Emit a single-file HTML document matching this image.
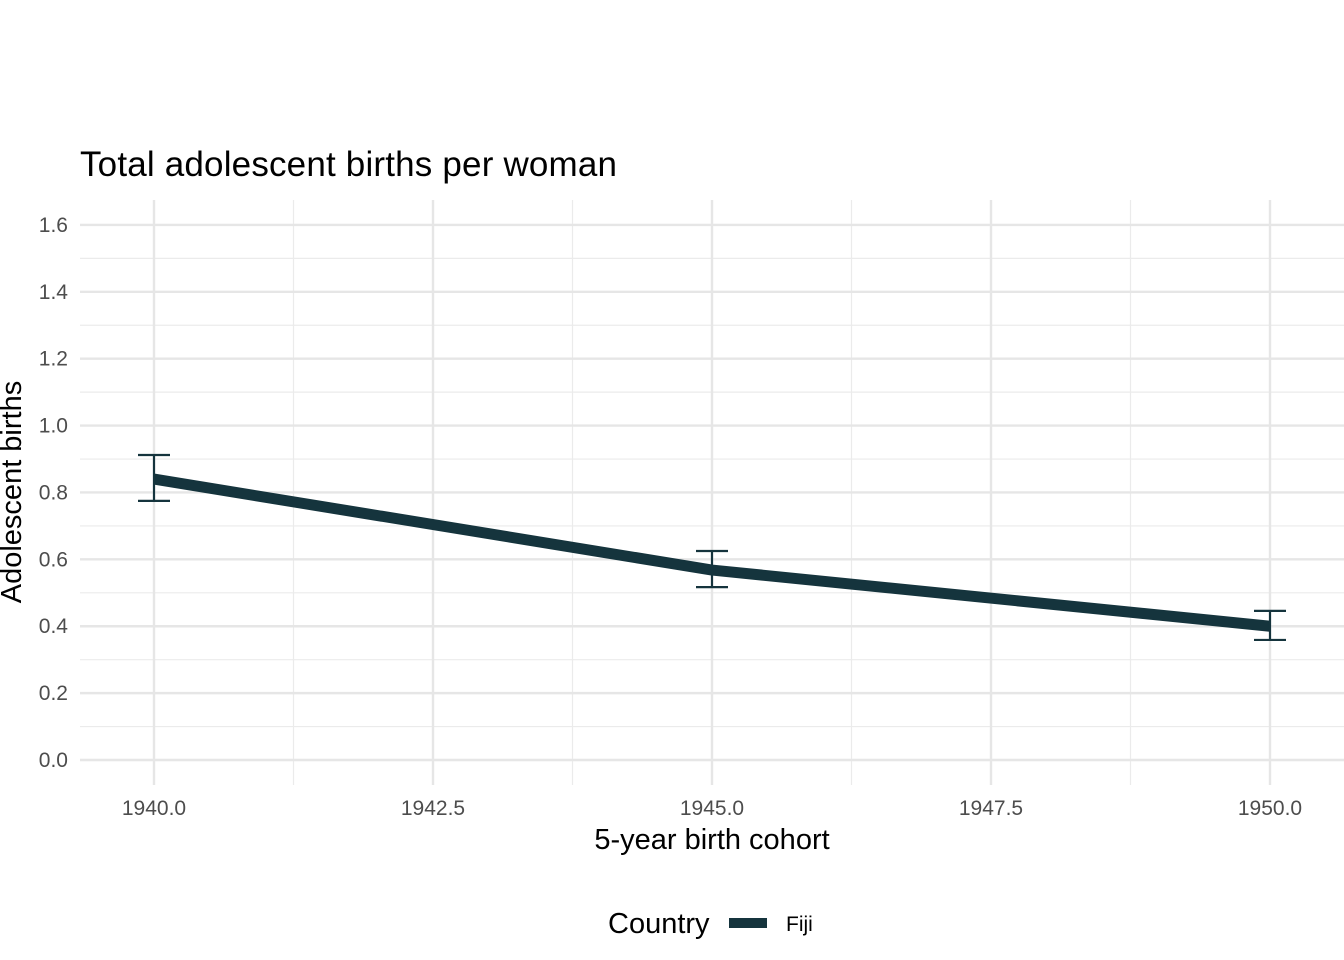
<!DOCTYPE html>
<html><head><meta charset="utf-8"><style>
html,body{margin:0;padding:0;background:#fff;}
svg{display:block;font-family:"Liberation Sans",Arial,sans-serif;}
</style></head><body>
<svg id="chart" width="1344" height="960">
<text x="80" y="176" font-size="35" fill="#000" textLength="537">Total adolescent births per woman</text>
<g id="grid"></g>
<g id="ticks"></g>
<g id="marks"></g>
<text x="712" y="849" font-size="29" text-anchor="middle" fill="#000">5-year birth cohort</text>
<text transform="translate(21,492) rotate(-90)" font-size="29" text-anchor="middle" fill="#000">Adolescent births</text>
<g>
<text x="608" y="933" font-size="29" fill="#000">Country</text>
<rect x="729" y="918" width="38" height="10" fill="#15343d"></rect>
<text x="786" y="931" font-size="21" fill="#000">Fiji</text>
</g>
</svg>
<script>
const years = [1940, 1945, 1950];
const values = [0.84, 0.568, 0.40];
const lower = [0.775, 0.517, 0.359];
const upper = [0.912, 0.625, 0.446];
const xTicks = [1940, 1942.5, 1945, 1947.5, 1950];
const xTickLabels = ["1940.0", "1942.5", "1945.0", "1947.5", "1950.0"];
const yTicks = [0, 0.2, 0.4, 0.6, 0.8, 1.0, 1.2, 1.4, 1.6];
const yTickLabels = ["0.0", "0.2", "0.4", "0.6", "0.8", "1.0", "1.2", "1.4", "1.6"];

const NS = "http://www.w3.org/2000/svg";
const X = v => 154 + (v - 1940) * 111.6;
const Y = v => 760 - v * 334.4;
const L = 80, R = 1344, T = 200, B = 785;
function mk(tag, attrs, parent) {
  const e = document.createElementNS(NS, tag);
  for (const k in attrs) e.setAttribute(k, attrs[k]);
  parent.appendChild(e);
  return e;
}
const grid = document.getElementById("grid");
const ticks = document.getElementById("ticks");
const marks = document.getElementById("marks");
for (let i = 0; i < xTicks.length - 1; i++) {
  const m = (xTicks[i] + xTicks[i + 1]) / 2;
  const el = mk("line", {x1: X(m), x2: X(m), y1: T, y2: B, stroke: "#ebebeb", "stroke-width": 1.2}, grid);
  
  
}
for (let i = 0; i < yTicks.length - 1; i++) {
  const m = (yTicks[i] + yTicks[i + 1]) / 2;
  const el = mk("line", {x1: L, x2: R, y1: Y(m), y2: Y(m), stroke: "#ebebeb", "stroke-width": 1.2}, grid);
  
  
}
xTicks.forEach((t, i) => {
  const el = mk("line", {x1: X(t), x2: X(t), y1: T, y2: B, stroke: "#e6e6e6", "stroke-width": 2.4}, grid);
  
  
  const tx = mk("text", {x: X(t), y: 815, "font-size": 21, fill: "#4d4d4d", "text-anchor": "middle"}, ticks);
  tx.textContent = xTickLabels[i];
  
  
});
yTicks.forEach((t, i) => {
  const el = mk("line", {x1: L, x2: R, y1: Y(t), y2: Y(t), stroke: "#e6e6e6", "stroke-width": 2.4}, grid);
  
  
  const tx = mk("text", {x: 68, y: Y(t) + 7, "font-size": 21, fill: "#4d4d4d", "text-anchor": "end"}, ticks);
  tx.textContent = yTickLabels[i];
  
  
});
const pts = years.map((y, i) => X(y) + "," + Y(values[i])).join(" ");
const pl = mk("polyline", {points: pts, fill: "none", stroke: "#15343d", "stroke-width": 11, "stroke-linejoin": "round"}, marks);


years.forEach((y, i) => {
  const g = mk("g", {stroke: "#15343d", "stroke-width": 2.2, fill: "none"}, marks);
  
  
  const x = X(y);
  mk("line", {x1: x, x2: x, y1: Y(upper[i]), y2: Y(lower[i])}, g);
  mk("line", {x1: x - 16, x2: x + 16, y1: Y(upper[i]), y2: Y(upper[i])}, g);
  mk("line", {x1: x - 16, x2: x + 16, y1: Y(lower[i]), y2: Y(lower[i])}, g);
});
</script>
</body></html>
